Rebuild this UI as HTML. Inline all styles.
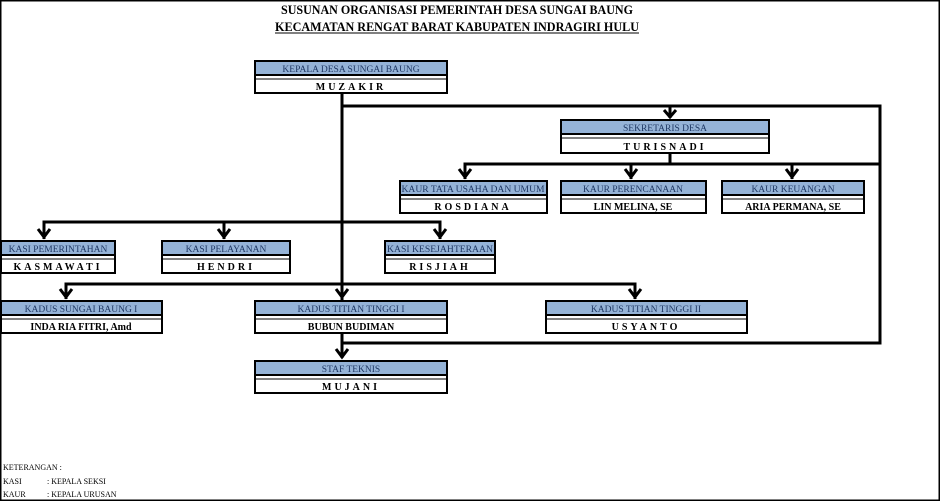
<!DOCTYPE html>
<html><head><meta charset="utf-8"><style>
html,body{margin:0;padding:0;background:#fff}
svg{display:block}
text{font-family:"Liberation Serif","DejaVu Serif",serif}
.h{font-size:9.5px;fill:#1f3864}
.n{font-size:10px;font-weight:bold;fill:#000}
.ln{stroke:#000;stroke-width:3;fill:none}
.ar{stroke:#000;stroke-width:3;fill:none;stroke-linejoin:miter}
</style></head><body>
<svg width="940" height="501" viewBox="0 0 940 501" xmlns="http://www.w3.org/2000/svg">
<rect x="0.5" y="0.5" width="939" height="500" fill="#fff" stroke="#000" stroke-width="2"/>
<text x="457" y="14" text-anchor="middle" style="font-size:13px;font-weight:bold" textLength="352" lengthAdjust="spacingAndGlyphs">SUSUNAN ORGANISASI PEMERINTAH DESA SUNGAI BAUNG</text>
<text x="457" y="31" text-anchor="middle" style="font-size:13px;font-weight:bold" textLength="364" lengthAdjust="spacingAndGlyphs">KECAMATAN RENGAT BARAT KABUPATEN INDRAGIRI HULU</text>
<line x1="275" y1="33" x2="639" y2="33" stroke="#000" stroke-width="1"/>

<path class="ln" d="M342 93 V358"/>
<path class="ln" d="M342 106 H880 V343 H342"/>
<path class="ln" d="M670 106 V118"/>
<path class="ln" d="M670 153 V164"/>
<path class="ln" d="M465 179 V164 H880"/>
<path class="ln" d="M631 164 V179"/>
<path class="ln" d="M792 164 V179"/>
<path class="ln" d="M44 239 V222 H440 V239"/>
<path class="ln" d="M224 222 V239"/>
<path class="ln" d="M66 299 V284 H635 V299"/>
<g class="ar">
<polyline points="664,110 670,117 676,110"/>
<polyline points="459,169 465,177 471,169"/>
<polyline points="625,169 631,177 637,169"/>
<polyline points="786,169 792,177 798,169"/>
<polyline points="38,229 44,237 50,229"/>
<polyline points="218,229 224,237 230,229"/>
<polyline points="434,229 440,237 446,229"/>
<polyline points="60,289 66,297 72,289"/>
<polyline points="336,289 342,297 348,289"/>
<polyline points="629,289 635,297 641,289"/>
<polyline points="336,349 342,357 348,349"/>
</g>

<g>
<rect x="255" y="61" width="192" height="14" fill="#95b3d7" stroke="#000" stroke-width="2"/>
<rect x="255" y="75" width="192" height="18" fill="#fff" stroke="#000" stroke-width="2"/>
<line x1="255" y1="79" x2="447" y2="79" stroke="#000" stroke-width="1"/>
<text class="h" x="351" y="72" text-anchor="middle">KEPALA DESA SUNGAI BAUNG</text>
<text class="n" x="351" y="90" text-anchor="middle" letter-spacing="3">MUZAKIR</text>

<rect x="561" y="120" width="208" height="14" fill="#95b3d7" stroke="#000" stroke-width="2"/>
<rect x="561" y="134" width="208" height="19" fill="#fff" stroke="#000" stroke-width="2"/>
<line x1="561" y1="138" x2="769" y2="138" stroke="#000" stroke-width="1"/>
<text class="h" x="665" y="131" text-anchor="middle">SEKRETARIS DESA</text>
<text class="n" x="665" y="150" text-anchor="middle" letter-spacing="3">TURISNADI</text>

<rect x="400" y="181" width="147" height="14" fill="#95b3d7" stroke="#000" stroke-width="2"/>
<rect x="400" y="195" width="147" height="18" fill="#fff" stroke="#000" stroke-width="2"/>
<line x1="400" y1="199" x2="547" y2="199" stroke="#000" stroke-width="1"/>
<text class="h" x="473" y="192" text-anchor="middle" textLength="143" lengthAdjust="spacingAndGlyphs">KAUR TATA USAHA DAN UMUM</text>
<text class="n" x="473" y="210" text-anchor="middle" letter-spacing="3">ROSDIANA</text>

<rect x="561" y="181" width="145" height="14" fill="#95b3d7" stroke="#000" stroke-width="2"/>
<rect x="561" y="195" width="145" height="18" fill="#fff" stroke="#000" stroke-width="2"/>
<line x1="561" y1="199" x2="706" y2="199" stroke="#000" stroke-width="1"/>
<text class="h" x="633" y="192" text-anchor="middle">KAUR PERENCANAAN</text>
<text class="n" x="633" y="210" text-anchor="middle">LIN MELINA, SE</text>

<rect x="722" y="181" width="142" height="14" fill="#95b3d7" stroke="#000" stroke-width="2"/>
<rect x="722" y="195" width="142" height="18" fill="#fff" stroke="#000" stroke-width="2"/>
<line x1="722" y1="199" x2="864" y2="199" stroke="#000" stroke-width="1"/>
<text class="h" x="793" y="192" text-anchor="middle">KAUR KEUANGAN</text>
<text class="n" x="793" y="210" text-anchor="middle">ARIA PERMANA, SE</text>

<rect x="1" y="241" width="114" height="14" fill="#95b3d7" stroke="#000" stroke-width="2"/>
<rect x="1" y="255" width="114" height="18" fill="#fff" stroke="#000" stroke-width="2"/>
<line x1="1" y1="259" x2="115" y2="259" stroke="#000" stroke-width="1"/>
<text class="h" x="58" y="252" text-anchor="middle">KASI PEMERINTAHAN</text>
<text class="n" x="58" y="270" text-anchor="middle" letter-spacing="3">KASMAWATI</text>

<rect x="162" y="241" width="128" height="14" fill="#95b3d7" stroke="#000" stroke-width="2"/>
<rect x="162" y="255" width="128" height="18" fill="#fff" stroke="#000" stroke-width="2"/>
<line x1="162" y1="259" x2="290" y2="259" stroke="#000" stroke-width="1"/>
<text class="h" x="226" y="252" text-anchor="middle">KASI PELAYANAN</text>
<text class="n" x="226" y="270" text-anchor="middle" letter-spacing="3">HENDRI</text>

<rect x="385" y="241" width="110" height="14" fill="#95b3d7" stroke="#000" stroke-width="2"/>
<rect x="385" y="255" width="110" height="18" fill="#fff" stroke="#000" stroke-width="2"/>
<line x1="385" y1="259" x2="495" y2="259" stroke="#000" stroke-width="1"/>
<text class="h" x="440" y="252" text-anchor="middle" textLength="106" lengthAdjust="spacingAndGlyphs">KASI KESEJAHTERAAN</text>
<text class="n" x="440" y="270" text-anchor="middle" letter-spacing="3">RISJIAH</text>

<rect x="1" y="301" width="161" height="14" fill="#95b3d7" stroke="#000" stroke-width="2"/>
<rect x="1" y="315" width="161" height="18" fill="#fff" stroke="#000" stroke-width="2"/>
<line x1="1" y1="319" x2="162" y2="319" stroke="#000" stroke-width="1"/>
<text class="h" x="81" y="312" text-anchor="middle">KADUS SUNGAI BAUNG I</text>
<text class="n" x="81" y="330" text-anchor="middle">INDA RIA FITRI, Amd</text>

<rect x="255" y="301" width="192" height="14" fill="#95b3d7" stroke="#000" stroke-width="2"/>
<rect x="255" y="315" width="192" height="18" fill="#fff" stroke="#000" stroke-width="2"/>
<line x1="255" y1="319" x2="447" y2="319" stroke="#000" stroke-width="1"/>
<text class="h" x="351" y="312" text-anchor="middle">KADUS TITIAN TINGGI I</text>
<text class="n" x="351" y="330" text-anchor="middle">BUBUN BUDIMAN</text>

<rect x="546" y="301" width="201" height="14" fill="#95b3d7" stroke="#000" stroke-width="2"/>
<rect x="546" y="315" width="201" height="18" fill="#fff" stroke="#000" stroke-width="2"/>
<line x1="546" y1="319" x2="747" y2="319" stroke="#000" stroke-width="1"/>
<text class="h" x="646" y="312" text-anchor="middle">KADUS TITIAN TINGGI II</text>
<text class="n" x="646" y="330" text-anchor="middle" letter-spacing="3">USYANTO</text>

<rect x="255" y="361" width="192" height="14" fill="#95b3d7" stroke="#000" stroke-width="2"/>
<rect x="255" y="375" width="192" height="18" fill="#fff" stroke="#000" stroke-width="2"/>
<line x1="255" y1="379" x2="447" y2="379" stroke="#000" stroke-width="1"/>
<text class="h" x="351" y="372" text-anchor="middle">STAF TEKNIS</text>
<text class="n" x="351" y="390" text-anchor="middle" letter-spacing="3">MUJANI</text>
</g>

<g style="font-size:8px" fill="#000">
<text x="3" y="470">KETERANGAN :</text>
<text x="3" y="484">KASI</text><text x="47" y="484">: KEPALA SEKSI</text>
<text x="3" y="497">KAUR</text><text x="47" y="497">: KEPALA URUSAN</text>
</g>
</svg>
</body></html>
